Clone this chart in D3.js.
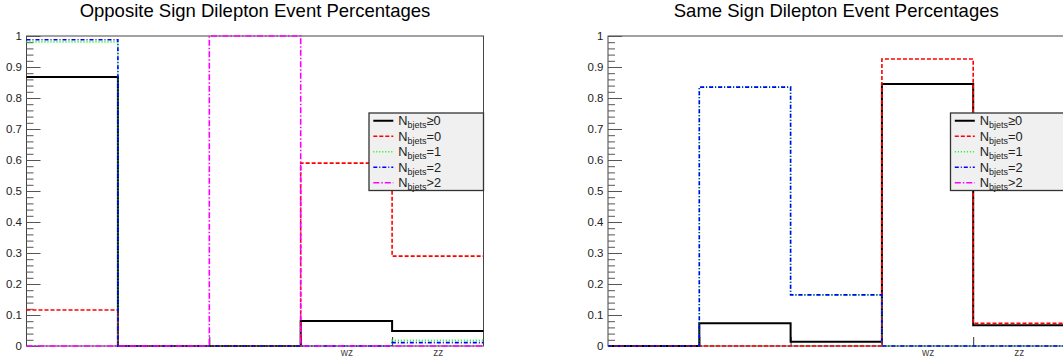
<!DOCTYPE html>
<html><head><meta charset="utf-8">
<script src="https://cdn.jsdelivr.net/npm/d3@7"></script>
<style>
body{margin:0;background:#fff}
svg{display:block}
text{font-family:"Liberation Sans",Arial,Helvetica,sans-serif}
</style>
</head><body>
<svg id="c" width="1063" height="362"></svg>
<script>
// ---- data ----
const categories = ["", "", "", "wz", "zz"];
const yTickValues = [0, 0.1, 0.2, 0.3, 0.4, 0.5, 0.6, 0.7, 0.8, 0.9, 1];
const yTickLabels = ["0", "0.1", "0.2", "0.3", "0.4", "0.5", "0.6", "0.7", "0.8", "0.9", "1"];
const seriesSuffix = ["\u22650", "=0", "=1", "=2", ">2"];

const titles = ["Opposite Sign Dilepton Event Percentages", "Same Sign Dilepton Event Percentages"];

// Opposite sign
const osAll = [0.868, 0, 0, 0.081, 0.048];
const osB0  = [0.116, 0, 0, 0.590, 0.290];
const osB1  = [0.981, 0, 0, 0, 0.018];
const osB2  = [0.988, 0, 0, 0, 0.011];
const osB3  = [0, 0, 1.0, 0, 0];
// Same sign
const ssAll = [0, 0.073, 0.014, 0.845, 0.067];
const ssB0  = [0, 0, 0, 0.926, 0.073];
const ssB1  = [0, 0.835, 0.165, 0, 0];
const ssB2  = [0, 0.835, 0.165, 0, 0];
const ssB3  = null; // not visible

// ---- styles ----
const colors = ["#000000", "#ff0000", "#00ff00", "#0000ff", "#ff00ff"];
const dashes = [null, "4,2", "1,2", "4,2,1,2", "6,2,1.5,2"];
const widths = [2, 1.6, 1.6, 1.6, 1.6];

const panels = [
  {x0: 26.5, x1: 483.5, series: [osAll, osB0, osB1, osB2, osB3], title: titles[0]},
  {x0: 608, x1: 1064.5, series: [ssAll, ssB0, ssB1, ssB2, ssB3], title: titles[1]}
];
const yTop = 36, yBottom = 346;

const svg = d3.select("#c");

panels.forEach(p => {
  const g = svg.append("g");
  const x = d3.scaleLinear().domain([0, categories.length]).range([p.x0, p.x1]);
  const y = d3.scaleLinear().domain([0, 1]).range([yBottom, yTop]);

  // title
  g.append("text").attr("x", (p.x0 + p.x1) / 2).attr("y", 17)
    .attr("text-anchor", "middle").attr("font-size", "18.5px").attr("fill", "#000")
    .text(p.title);

  // frame
  g.append("rect").attr("x", p.x0).attr("y", yTop)
    .attr("width", p.x1 - p.x0).attr("height", yBottom - yTop)
    .attr("fill", "none").attr("stroke", "#444").attr("stroke-width", 1);

  // minor y ticks
  const minor = d3.range(0, 51).map(i => i / 50).filter(v => Math.round(v * 50) % 5 !== 0);
  const ym = g.append("g").attr("transform", `translate(${p.x0},0)`)
    .call(d3.axisLeft(y).tickValues(minor).tickSize(-7).tickFormat(""));
  ym.select(".domain").remove();
  ym.selectAll("line").attr("stroke", "#555");

  // major y ticks
  const yM = g.append("g").attr("transform", `translate(${p.x0},0)`)
    .call(d3.axisLeft(y).tickValues(yTickValues).tickSize(-14).tickPadding(4.5)
      .tickFormat((d, i) => yTickLabels[i]));
  yM.select(".domain").remove();
  yM.selectAll("line").attr("stroke", "#555");
  yM.selectAll("text").attr("font-size", "11.5px").attr("fill", "#222")
    .attr("font-family", '"Liberation Sans",Arial,sans-serif');

  // x ticks at bin edges
  const xe = g.append("g").attr("transform", `translate(0,${yBottom})`)
    .call(d3.axisBottom(x).tickValues(d3.range(1, categories.length)).tickSize(-9).tickFormat(""));
  xe.select(".domain").remove();
  xe.selectAll("line").attr("stroke", "#333");

  // x category labels
  const xl = g.append("g").attr("transform", `translate(0,${yBottom})`)
    .call(d3.axisBottom(x).tickValues(categories.map((c, i) => i + 0.5)).tickSize(0).tickPadding(3.2)
      .tickFormat((d, i) => categories[i]));
  xl.select(".domain").remove();
  xl.selectAll("text").attr("font-size", "10px").attr("fill", "#444")
    .attr("font-family", '"Liberation Sans",Arial,sans-serif');

  // histograms
  const line = d3.line().x(d => x(d[0])).y(d => y(d[1])).curve(d3.curveStepAfter);
  p.series.forEach((vals, si) => {
    if (!vals) return;
    const pts = vals.map((v, i) => [i, v]);
    pts.push([vals.length, vals[vals.length - 1]]);
    g.append("path").attr("d", line(pts)).attr("fill", "none")
      .attr("stroke", colors[si]).attr("stroke-width", widths[si])
      .attr("stroke-dasharray", dashes[si]);
  });

  // legend
  const lx = p.x0 + 342.5, ly = 113, lw = 114.5, lh = 77.5;
  const lg = g.append("g");
  lg.append("rect").attr("x", lx).attr("y", ly).attr("width", lw).attr("height", lh)
    .attr("fill", "#f0f0f0").attr("stroke", "#333").attr("stroke-width", 1.3);
  const rowH = lh / seriesSuffix.length;
  seriesSuffix.forEach((s, i) => {
    const cy = ly + rowH * (i + 0.5);
    lg.append("line").attr("x1", lx + 4.3).attr("x2", lx + 24.3).attr("y1", cy).attr("y2", cy)
      .attr("stroke", colors[i]).attr("stroke-width", widths[i]).attr("stroke-dasharray", dashes[i]);
    const t = lg.append("text").attr("x", lx + 29.3).attr("y", cy + 4.4)
      .attr("font-size", "12.8px").attr("fill", "#222");
    t.append("tspan").text("N");
    t.append("tspan").attr("font-size", "9px").attr("dy", 3).text("bjets");
    t.append("tspan").attr("dy", -3).text(s);
  });
});
</script>
</body></html>
